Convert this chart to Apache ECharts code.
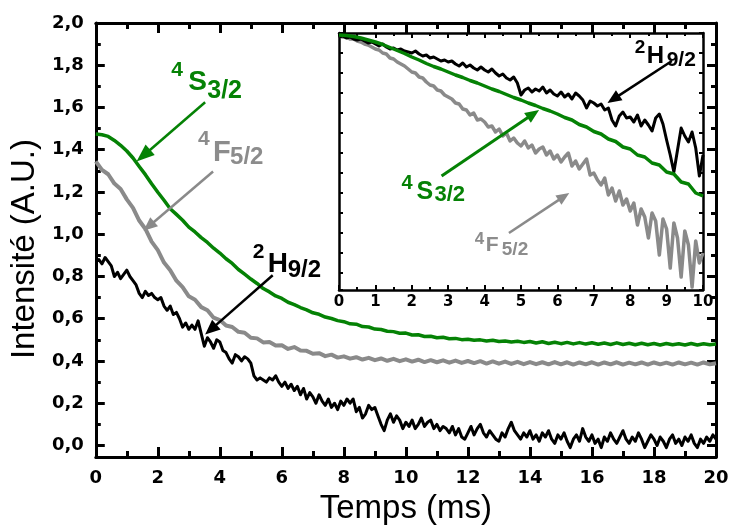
<!DOCTYPE html>
<html><head><meta charset="utf-8">
<script src="https://cdn.jsdelivr.net/npm/echarts@6/dist/echarts.min.js"></script>
<style>html,body{margin:0;padding:0;background:#fff}#c{width:732px;height:530px}</style>
</head><body><div id="c"></div>
<script>
// ---------- sampling grids (ms) ----------
function samples(count, step){ return Array.from({length: count}, (_, i) => Math.round(i * step * 100) / 100); }
const tMainFine = samples(201, 0.1);    // 0..20 ms
const tMainCoarse = samples(101, 0.2);  // 0..20 ms
const tInsetFine = samples(101, 0.1);   // 0..10 ms
const tInsetCoarse = samples(51, 0.2);  // 0..10 ms

// ---------- main plot: intensity (A.U.) ----------
const h92Main = [
0.87,0.88,0.86,0.89,0.87,0.85,0.80,0.82,0.79,0.81,
0.83,0.80,0.78,0.76,0.72,0.70,0.73,0.71,0.72,0.70,
0.69,0.70,0.66,0.64,0.66,0.62,0.63,0.60,0.56,0.58,
0.55,0.57,0.55,0.59,0.53,0.47,0.51,0.49,0.46,0.50,
0.49,0.45,0.44,0.41,0.39,0.43,0.42,0.40,0.42,0.41,
0.39,0.33,0.31,0.32,0.31,0.30,0.32,0.31,0.33,0.30,
0.28,0.30,0.27,0.29,0.26,0.28,0.24,0.27,0.22,0.25,
0.23,0.20,0.24,0.21,0.19,0.22,0.18,0.20,0.17,0.21,
0.19,0.22,0.20,0.22,0.16,0.18,0.13,0.15,0.19,0.17,
0.18,0.14,0.10,0.07,0.12,0.15,0.11,0.14,0.12,0.08,
0.11,0.09,0.12,0.08,0.10,0.13,0.09,0.11,0.12,0.08,
0.10,0.07,0.09,0.08,0.06,0.09,0.05,0.08,0.04,0.03,
0.06,0.09,0.05,0.08,0.10,0.06,0.04,0.07,0.05,0.03,
0.02,0.06,0.04,0.08,0.11,0.07,0.05,0.03,0.06,0.04,
0.07,0.03,0.05,0.02,0.06,0.04,0.07,0.03,0.01,0.05,
0.03,0.06,0.02,-0.01,0.03,0.05,0.02,0.08,0.04,0.02,
0.05,0.01,0.03,-0.01,0.04,0.02,0.06,0.03,0.01,0.04,
0.07,0.03,0.01,0.04,0.02,0.06,0.03,-0.01,0.02,0.05,
0.03,0.00,0.04,0.02,-0.01,0.03,0.05,0.01,0.03,0.00,
0.04,0.02,0.05,0.01,-0.01,0.03,0.01,0.04,0.02,0.05,
0.03];
const f52Main = [
1.345,1.305,1.284,1.240,1.214,1.165,1.125,1.065,1.025,0.965,
0.925,0.866,0.830,0.780,0.750,0.706,0.690,0.655,0.640,0.605,
0.594,0.568,0.561,0.538,0.534,0.510,0.507,0.488,0.490,0.473,
0.474,0.457,0.466,0.450,0.448,0.434,0.437,0.423,0.430,0.416,
0.422,0.411,0.418,0.407,0.415,0.404,0.412,0.401,0.410,0.399,
0.408,0.397,0.406,0.395,0.404,0.394,0.403,0.392,0.402,0.391,
0.400,0.390,0.399,0.388,0.398,0.387,0.397,0.386,0.396,0.385,
0.395,0.385,0.394,0.384,0.395,0.384,0.394,0.383,0.393,0.384,
0.394,0.383,0.393,0.384,0.394,0.383,0.392,0.384,0.393,0.383,
0.393,0.384,0.392,0.383,0.393,0.384,0.392,0.383,0.393,0.384,
0.389];
const s32Main = [
1.475,1.471,1.463,1.444,1.421,1.394,1.361,1.321,1.282,1.239,
1.199,1.161,1.121,1.094,1.066,1.034,1.011,0.984,0.961,0.934,
0.911,0.884,0.862,0.833,0.811,0.788,0.767,0.743,0.727,0.708,
0.696,0.678,0.667,0.653,0.642,0.628,0.621,0.608,0.601,0.591,
0.586,0.576,0.574,0.563,0.561,0.551,0.549,0.541,0.539,0.531,
0.532,0.523,0.524,0.516,0.517,0.510,0.512,0.505,0.507,0.501,
0.503,0.498,0.500,0.495,0.498,0.492,0.495,0.490,0.493,0.488,
0.492,0.485,0.491,0.483,0.489,0.482,0.488,0.481,0.487,0.480,
0.486,0.479,0.485,0.478,0.486,0.478,0.484,0.477,0.484,0.477,
0.483,0.476,0.483,0.477,0.482,0.476,0.483,0.476,0.482,0.477,
0.480];

// ---------- inset: log-decay depth (arbitrary units, downward) ----------
const h92Inset = [
0.04,0.03,0.05,0.04,0.06,0.07,0.06,0.08,0.10,0.09,
0.11,0.13,0.11,0.14,0.16,0.15,0.17,0.16,0.18,0.19,
0.20,0.18,0.21,0.23,0.22,0.25,0.24,0.26,0.28,0.27,
0.29,0.28,0.31,0.33,0.30,0.34,0.32,0.35,0.37,0.34,
0.37,0.39,0.36,0.40,0.43,0.41,0.45,0.47,0.44,0.50,
0.62,0.57,0.55,0.59,0.56,0.58,0.54,0.60,0.57,0.61,
0.63,0.59,0.64,0.61,0.66,0.60,0.63,0.67,0.75,0.68,
0.70,0.73,0.71,0.77,0.75,0.87,0.93,0.83,0.79,0.85,
0.84,0.89,0.82,0.93,0.87,0.92,0.98,0.85,0.81,0.91,
1.07,1.22,1.39,1.17,0.95,1.03,1.09,0.99,1.15,1.43,
1.22];
const f52Inset = [
0.03,0.04,0.04,0.06,0.06,0.08,0.09,0.11,0.12,0.14,
0.16,0.17,0.20,0.21,0.25,0.26,0.29,0.31,0.33,0.36,
0.39,0.40,0.44,0.45,0.49,0.52,0.53,0.57,0.58,0.62,
0.64,0.66,0.70,0.71,0.76,0.77,0.82,0.80,0.87,0.86,
0.89,0.94,0.93,0.99,0.96,1.03,1.00,1.08,1.05,1.10,
1.13,1.08,1.15,1.12,1.20,1.16,1.14,1.22,1.18,1.26,
1.22,1.29,1.24,1.20,1.33,1.28,1.36,1.31,1.26,1.42,
1.40,1.47,1.52,1.45,1.62,1.55,1.68,1.58,1.72,1.66,
1.78,1.70,1.92,1.76,1.84,2.05,1.80,1.88,2.22,1.86,
1.96,2.35,1.90,2.05,2.44,1.98,2.12,2.54,2.08,2.30,
2.20];
const s32Inset = [
0.02,0.025,0.035,0.05,0.07,0.09,0.115,0.145,0.175,0.205,
0.24,0.27,0.305,0.335,0.36,0.39,0.42,0.445,0.475,0.50,
0.53,0.56,0.585,0.615,0.645,0.67,0.70,0.725,0.755,0.78,
0.81,0.845,0.87,0.915,0.94,0.985,1.01,1.06,1.085,1.14,
1.16,1.22,1.24,1.30,1.32,1.39,1.41,1.49,1.51,1.60,
1.63];

const mainXTicks = {min: 0, max: 20, interval: 2};
const insetXTicks = {min: 0, max: 10, interval: 1};
const yLabelFmt = v => v.toFixed(1).replace('.', ',');

const BLACK = '#000000', GRAY = '#8a8a8a', GREEN = '#058205', GRAYTXT = '#8c8c8c';
const pair = (ts, vs) => vs.map((v, i) => [ts[i], v]);

const chart = echarts.init(document.getElementById('c'), null, {renderer: 'canvas'});

const tickFont = {fontFamily: 'DejaVu Sans', fontWeight: 'bold', color: '#000'};
function mainX(pos, labels){
  return {gridIndex: 0, type: 'value', position: pos, min: mainXTicks.min, max: mainXTicks.max, interval: mainXTicks.interval,
    axisLine: {show: true, onZero: false, lineStyle: {color: '#000', width: 3}},
    axisTick: {show: true, inside: true, length: 10, lineStyle: {color: '#000', width: 3}},
    minorTick: {show: true, splitNumber: 2, length: 6, lineStyle: {color: '#000', width: 3}},
    splitLine: {show: false},
    axisLabel: labels ? Object.assign({show: true, fontSize: 18, margin: 12}, tickFont) : {show: false},
    name: labels ? 'Temps (ms)' : '', nameLocation: 'middle', nameGap: 33,
    nameTextStyle: {fontFamily: 'Liberation Sans', fontSize: 33, color: '#000'}};
}
function mainY(pos, labels){
  return {gridIndex: 0, type: 'value', position: pos, min: -0.055, max: 2.0, splitNumber: 10,
    axisLine: {show: true, onZero: false, lineStyle: {color: '#000', width: 3}},
    axisTick: {show: true, inside: true, length: 9, lineStyle: {color: '#000', width: 3}},
    minorTick: {show: true, splitNumber: 2, length: 5, lineStyle: {color: '#000', width: 3}},
    splitLine: {show: false},
    axisLabel: labels ? Object.assign({show: true, fontSize: 18, margin: 12, showMinLabel: false, formatter: yLabelFmt}, tickFont) : {show: false},
    name: labels ? 'Intensité (A.U.)' : '', nameLocation: 'middle', nameGap: 42, nameRotate: 90,
    nameTextStyle: {fontFamily: 'Liberation Sans', fontSize: 33, color: '#000', padding: [0, 18, 0, 0]}};
}
function insetX(pos, labels){
  return {gridIndex: 1, type: 'value', position: pos, min: insetXTicks.min, max: insetXTicks.max, interval: insetXTicks.interval,
    axisLine: {show: true, onZero: false, lineStyle: {color: '#000', width: 2.5}},
    axisTick: {show: true, inside: true, length: 5, lineStyle: {color: '#000', width: 2}},
    minorTick: {show: true, splitNumber: 2, length: 3, lineStyle: {color: '#000', width: 2}},
    splitLine: {show: false},
    axisLabel: labels ? Object.assign({show: true, fontSize: 15, margin: 5}, tickFont) : {show: false}};
}
function insetY(pos){
  return {gridIndex: 1, type: 'value', position: pos, inverse: true, min: 0, max: 2.57, interval: 0.2,
    axisLine: {show: true, onZero: false, lineStyle: {color: '#000', width: 2.5}},
    axisTick: {show: true, inside: true, length: 4, lineStyle: {color: '#000', width: 2}},
    splitLine: {show: false}, axisLabel: {show: false}};
}
function line(xi, yi, data, color, width, z){
  return {type: 'line', xAxisIndex: xi, yAxisIndex: yi, data: data, showSymbol: false, symbol: 'none',
    lineStyle: {color: color, width: width, join: 'round'}, itemStyle: {color: color}, z: z, silent: true, animation: false};
}

chart.setOption({
  animation: false,
  backgroundColor: '#fff',
  grid: [{left: 92, right: 16, top: 23, bottom: 68}, {left: 339, right: 29, top: 33, bottom: 240}],
  xAxis: [mainX('bottom', true), mainX('top', false), insetX('bottom', true), insetX('top', false)],
  yAxis: [mainY('left', true), mainY('right', false), insetY('left'), insetY('right')],
  series: [
    line(0, 0, pair(tMainCoarse, s32Main), GREEN, 3.5, 2),
    line(0, 0, pair(tMainCoarse, f52Main), GRAY, 4, 3),
    line(0, 0, pair(tMainFine, h92Main), BLACK, 3, 4),
    line(2, 2, pair(tInsetFine, f52Inset), GRAY, 3.5, 5),
    line(2, 2, pair(tInsetFine, h92Inset), BLACK, 3, 6),
    line(2, 2, pair(tInsetCoarse, s32Inset), GREEN, 3.5, 7)
  ]
});

// ---------- annotations (anchored in data coordinates) ----------
const MAIN = {xAxisIndex: 0, yAxisIndex: 0}, INSET = {xAxisIndex: 2, yAxisIndex: 2};
const labels = [
  {f: MAIN, at: [2.981, 1.719], color: GREEN, parts: [['4', -17, -12.5, 21], ['S', 0, 0, 28], ['3/2', 19, 9, 25]]},
  {f: MAIN, at: [3.782, 1.386], color: GRAYTXT, parts: [['4', -15, -13.5, 21], ['F', 0, 0, 29], ['5/2', 17, 5, 24]]},
  {f: MAIN, at: [5.545, 0.857], color: BLACK, parts: [['2', -15, -12.5, 21], ['H', 0, 0, 28], ['9/2', 20, 6, 24]]},
  {f: INSET, at: [8.453, 0.235], color: BLACK, parts: [['2', -12, -8.5, 19], ['H', 0, 0, 24], ['9/2', 20, 4, 21]]},
  {f: INSET, at: [2.127, 1.59], color: GREEN, parts: [['4', -15, -8.5, 20], ['S', 0, 0, 25], ['3/2', 18, 2.5, 22]]},
  {f: INSET, at: [4.033, 2.125], color: GRAYTXT, parts: [['4', -11, -6, 17], ['F', 0, 0, 21], ['5/2', 16, 4, 19]]}
];
const arrows = [
  {f: MAIN, from: [3.526, 1.625], to: [1.314, 1.344], color: GREEN, head: 18, hw: 7, lw: 2.5},
  {f: MAIN, from: [3.782, 1.297], to: [1.538, 1.016], color: GRAY, head: 14, hw: 6, lw: 2.5},
  {f: MAIN, from: [5.705, 0.806], to: [3.526, 0.525], color: BLACK, head: 15, hw: 6.5, lw: 2.5},
  {f: INSET, from: [9.144, 0.28], to: [7.376, 0.70], color: BLACK, head: 14, hw: 6, lw: 2.5},
  {f: INSET, from: [2.818, 1.43], to: [5.497, 0.77], color: GREEN, head: 14, hw: 6, lw: 3},
  {f: INSET, from: [4.669, 2.0], to: [6.326, 1.6], color: GRAY, head: 13, hw: 5.5, lw: 2.5}
];
const els = [];
labels.forEach(L => {
  const p = chart.convertToPixel(L.f, L.at);
  L.parts.forEach(([txt, dx, dy, fs]) => {
    els.push({type: 'text', x: p[0] + dx, y: p[1] + dy, z: 100, silent: true,
      style: {text: txt, fill: L.color, font: 'bold ' + fs + 'px "Liberation Sans", Arial, sans-serif',
        textAlign: 'left', textVerticalAlign: 'middle', align: 'left', verticalAlign: 'middle'}});
  });
});
arrows.forEach(A => {
  const a = chart.convertToPixel(A.f, A.from), b = chart.convertToPixel(A.f, A.to);
  const dx = b[0] - a[0], dy = b[1] - a[1], len = Math.hypot(dx, dy);
  const ux = dx / len, uy = dy / len, nx = -uy, ny = ux;
  const bx = b[0] - A.head * ux, by = b[1] - A.head * uy;
  els.push({type: 'line', z: 100, silent: true, shape: {x1: a[0], y1: a[1], x2: bx + ux, y2: by + uy},
    style: {stroke: A.color, lineWidth: A.lw}});
  els.push({type: 'polygon', z: 100, silent: true,
    shape: {points: [[b[0], b[1]], [bx + A.hw * nx, by + A.hw * ny], [bx - A.hw * nx, by - A.hw * ny]]},
    style: {fill: A.color}});
});
chart.setOption({graphic: {elements: els}});
</script>
</body></html>
